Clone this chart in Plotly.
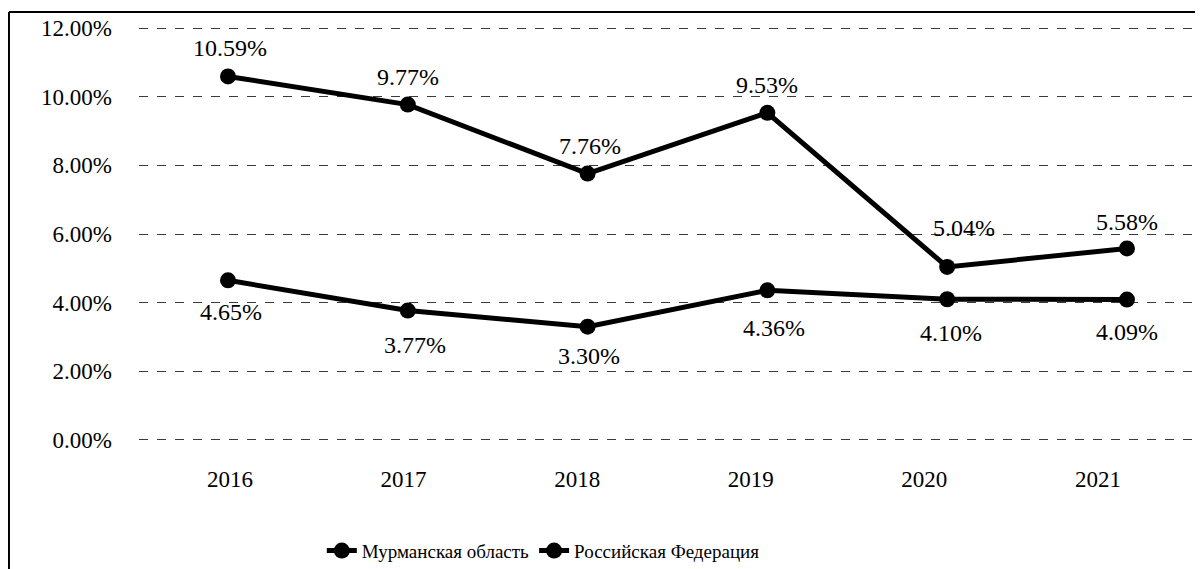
import plotly.graph_objects as go

years = ["2016", "2017", "2018", "2019", "2020", "2021"]
murmansk = [10.59, 9.77, 7.76, 9.53, 5.04, 5.58]
russia = [4.65, 3.77, 3.30, 4.36, 4.10, 4.09]
series_names = ["Мурманская область", "Российская Федерация"]
y_ticks = [0, 2, 4, 6, 8, 10, 12]

font_family = "Liberation Serif, Times New Roman, serif"

# label placement (pixel offsets from each point), styling only
top_dy = [28, 28, 28, 28, 39, 26]
top_dx = [2, 0, 2, 0, 17, 0]
bot_dy = [-32, -34, -29, -38, -34, -32]
bot_dx = [3, 7, 1, 7, 4, 0]

fig = go.Figure()
for vals, name in [(murmansk, series_names[0]), (russia, series_names[1])]:
    fig.add_trace(go.Scatter(
        x=years, y=vals, name=name, mode="lines+markers",
        line=dict(color="black", width=5),
        marker=dict(color="black", size=16),
        cliponaxis=False,
    ))

for vals, dys, dxs in [(murmansk, top_dy, top_dx), (russia, bot_dy, bot_dx)]:
    for i, (v, dy, dx) in enumerate(zip(vals, dys, dxs)):
        fig.add_annotation(x=i, y=v, xref="x", yref="y", text=f"{v:.2f}%",
                           showarrow=False, xshift=dx, yshift=dy,
                           xanchor="center", yanchor="middle",
                           font=dict(size=24, color="black", family=font_family))

# invisible trace carrying the category tick labels (scanned labels sit slightly apart from the points)
fig.add_trace(go.Scatter(x=years, y=[None] * len(years), xaxis="x2", mode="markers",
                         showlegend=False, hoverinfo="skip", marker=dict(opacity=0)))

fig.update_layout(
    width=1203, height=569,
    margin=dict(l=131, r=8, t=19, b=135),
    paper_bgcolor="white", plot_bgcolor="white",
    font=dict(family=font_family, color="black", size=18),
    showlegend=True,
    legend=dict(orientation="h", x=0.38, xanchor="center", y=-0.262, yanchor="middle",
                font=dict(size=19), tracegroupgap=0, itemwidth=30),
    xaxis=dict(type="category", range=[-0.495, 5.423], showgrid=False, showline=False,
               ticks="", showticklabels=False, zeroline=False),
    xaxis2=dict(type="category", overlaying="x", side="bottom", range=[-0.524, 5.605],
                showgrid=False, showline=False, ticks="", ticklabelstandoff=22,
                tickfont=dict(size=23), zeroline=False),
    yaxis=dict(range=[-0.03, 12.03], tickvals=y_ticks, ticktext=[f"{v:.2f}%" for v in y_ticks],
               showgrid=True, gridcolor="#3a3a3a", gridwidth=1, griddash="dash",
               zeroline=False, showline=False, ticks="", ticklabelstandoff=26,
               tickfont=dict(size=23)),
)

# scanned frame: left and top border lines
fig.add_shape(type="line", xref="paper", yref="paper", x0=-0.1222, x1=-0.1222, y0=-0.4, y1=1.036,
              line=dict(color="black", width=2))
fig.add_shape(type="line", xref="paper", yref="paper", x0=-0.1222, x1=1.05, y0=1.036, y1=1.036,
              line=dict(color="black", width=2))

fig.write_html("out.html")
